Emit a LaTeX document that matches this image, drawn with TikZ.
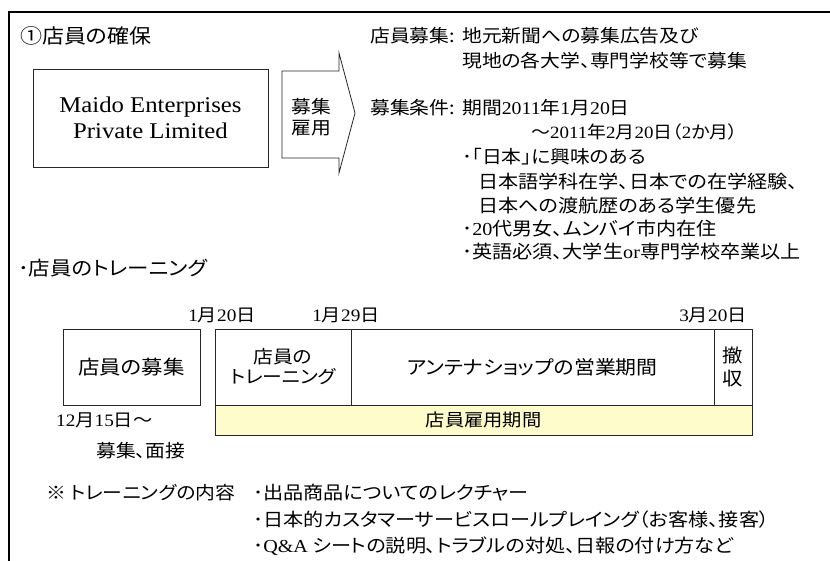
\documentclass[tikz,border=0pt]{standalone}
\usepackage{fontspec}
\setmainfont{Noto Sans CJK JP}[FakeStretch=1.1,RawFeature=+palt]
\newfontfamily\tmfont{Liberation Serif}[FakeStretch=1.1]
\newcommand\tm[1]{{\tmfont #1}}
\newcommand\fs[1]{\fontsize{#1}{#1}\selectfont}
\tikzset{
  txt/.style={inner sep=0pt, anchor=west, font=\fs{18}},
  boxline/.style={draw=black!85, line width=0.9pt},
  tbox/.style={boxline, inner sep=0pt, align=center},
}
\begin{document}
\begin{tikzpicture}[x=1pt,y=-1pt]
\useasboundingbox (0,0) rectangle (830,561);
% outer frame
\coordinate (fb) at (9,561);
\coordinate (fc) at (9,12);
\coordinate (fr) at (830,12);
\draw[line width=2pt] (fb) -- (fc) -- (fr);

% title
\node[txt, font=\fs{20}] (title) at (20,36) {①店員の確保};

% company box
\node[tbox, minimum width=235pt, minimum height=98pt, font=\tmfont\fs{22.5}, align=center] (maido) at (150.5,118) {Maido Enterprises\\[4pt]Private Limited};

% arrow
\draw[boxline, line width=0.8pt] (282,71) -- (339,71) -- (339,53) -- (355,113) -- (339,173) -- (339,158) -- (282,158) -- cycle;
\node[inner sep=0pt, align=center, font=\fs{18}] (arrtxt) at (311,117) {募集\\[3pt]雇用};

% right block
\node[txt] (l1a) at (370,36) {店員募集:};
\node[txt] (l1b) at (462,36) {地元新聞への募集広告及び};
\node[txt] (l2) at (462,61) {現地の各大学、専門学校等で募集};
\node[txt] (l3a) at (370,108) {募集条件:};
\node[txt] (l3b) at (462,108) {期間\tm{2011}年\tm{1}月\tm{20}日};
\node[txt, font=\fs{17.2}] (l4) at (531,132) {～\tm{2011}年\tm{2}月\tm{20}日（\tm{2}か月）};
\node[txt] (l5) at (462,157) {･「日本」に興味のある};
\node[txt, font=\fs{18.3}] (l6) at (478,182) {日本語学科在学、日本での在学経験、};
\node[txt, font=\fs{18.3}] (l7) at (478,206) {日本への渡航歴のある学生優先};
\node[txt, font=\fs{18.3}] (l8) at (462,229) {･\tm{20}代男女、ムンバイ市内在住};
\node[txt, font=\fs{18.3}] (l9) at (462,252) {･英語必須、大学生\tm{or}専門学校卒業以上};

% training heading
\node[txt, font=\fs{19.5}] (trhead) at (18,268) {･店員のトレーニング};

% timeline dates
\node[inner sep=0pt, font=\fs{17.5}] (d1) at (222,315) {\tm{1}月\tm{20}日};
\node[inner sep=0pt, font=\fs{17.5}] (d2) at (346,315) {\tm{1}月\tm{29}日};
\node[inner sep=0pt, font=\fs{17.5}] (d3) at (713,315) {\tm{3}月\tm{20}日};

% timeline boxes
\node[tbox, minimum width=137pt, minimum height=76pt, font=\fs{19.5}] (recruit) at (131.5,367) {店員の募集};
\node[tbox, minimum width=136pt, minimum height=76pt, font=\fs{18}] (train) at (283,367) {店員の\\[2pt]トレーニング};
\node[tbox, minimum width=363pt, minimum height=76pt, font=\fs{19}] (shop) at (532.5,367) {アンテナショップの営業期間};
\node[tbox, minimum width=38pt, minimum height=76pt, font=\fs{18.5}] (wd) at (733,367) {撤\\[4pt]収};
\node[tbox, fill=yellow!20, minimum width=537pt, minimum height=30pt, font=\fs{17.5}] (bar) at (483.5,420) {店員雇用期間};

\node[txt, font=\fs{17.5}] (r1) at (56,420) {\tm{12}月\tm{15}日～};
\node[txt, font=\fs{18}] (r2) at (96,451) {募集、面接};

% bottom notes
\node[txt] (n0) at (46,493) {※ トレーニングの内容};
\node[txt, font=\fs{18.3}] (n1) at (253,493) {･出品商品についてのレクチャー};
\node[txt, font=\fs{18.3}] (n2) at (253,520) {･日本的カスタマーサービスロールプレイング（お客様、接客）};
\node[txt, font=\fs{18.3}] (n3) at (253,546) {･\tm{Q\&A} シートの説明、トラブルの対処、日報の付け方など};
\end{tikzpicture}
\end{document}
